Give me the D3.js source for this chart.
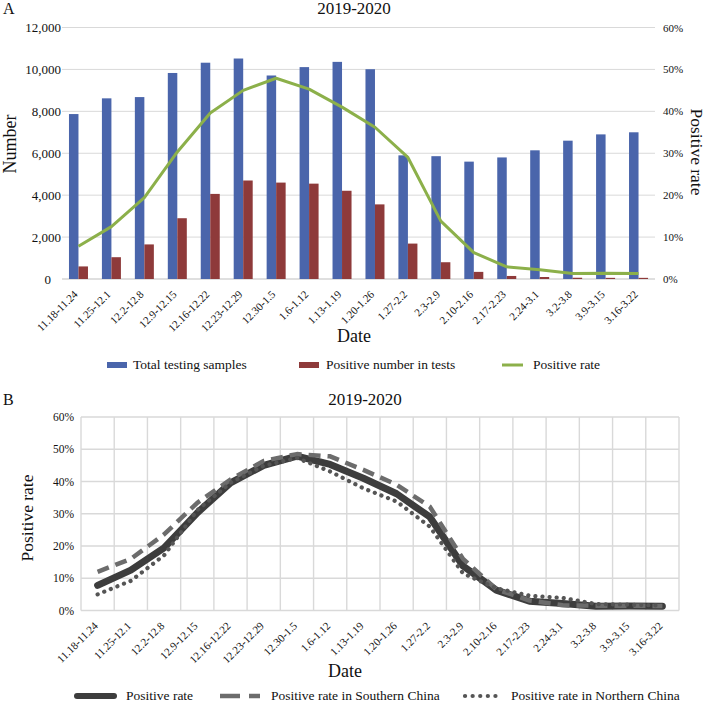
<!DOCTYPE html>
<html>
<head>
<meta charset="utf-8">
<script src="https://cdn.jsdelivr.net/npm/d3@7"></script>
<style>
  html, body { margin: 0; padding: 0; background: #fff; }
  svg { display: block; }
  svg text { font-family: "Liberation Serif", "Times New Roman", serif !important; fill: #111; }
</style>
</head>
<body>
<div id="chart"></div>
<script>
// ---------------- data ----------------
const categories = ["11.18-11.24","11.25-12.1","12.2-12.8","12.9-12.15","12.16-12.22","12.23-12.29","12.30-1.5","1.6-1.12","1.13-1.19","1.20-1.26","1.27-2.2","2.3-2.9","2.10-2.16","2.17-2.23","2.24-3.1","3.2-3.8","3.9-3.15","3.16-3.22"];
const totalSamples = [7870, 8620, 8680, 9830, 10320, 10520, 9710, 10110, 10360, 10010, 5900, 5860, 5600, 5800, 6140, 6600, 6900, 7000];
const positiveNumber = [600, 1040, 1650, 2900, 4060, 4700, 4600, 4550, 4210, 3560, 1690, 800, 340, 145, 95, 60, 55, 55];
const positiveRate = [7.8, 12.5, 19.4, 30.3, 39.6, 45.0, 47.9, 45.3, 41.0, 36.2, 29.0, 13.8, 6.3, 2.9, 2.2, 1.3, 1.4, 1.3];
const rateSouth = [12.0, 16.0, 23.6, 33.4, 40.6, 46.4, 48.5, 47.8, 43.6, 39.0, 32.2, 16.0, 6.6, 3.1, 1.6, 1.5, 1.5, 1.4];
const rateNorth = [5.0, 9.2, 17.1, 31.1, 39.6, 44.9, 47.3, 43.1, 37.9, 33.8, 26.0, 11.5, 6.9, 4.6, 3.9, 2.0, 1.8, 1.5];
const countTicks = [0, 2000, 4000, 6000, 8000, 10000, 12000];
const pctTicks = [0, 10, 20, 30, 40, 50, 60];
const legendA = ["Total testing samples", "Positive number in tests", "Positive rate"];
const legendB = ["Positive rate", "Positive rate in Southern China", "Positive rate in Northern China"];

// ---------------- styles ----------------
const BLUE = "#4a65ab", RED = "#8e3a3a", GREEN = "#8cb04a";
const GRID = "#d9d9d9";
const SERIF = "'Liberation Serif', 'Times New Roman', serif";

const svg = d3.select("#chart").append("svg").attr("width", 708).attr("height", 702)
  .attr("font-family", SERIF);

function styleAxisText(ax, size) {
  ax.attr("font-family", null).attr("font-size", null);
  ax.selectAll("text").attr("font-family", SERIF).style("font-size", size).attr("fill", "#222");
}

// ================= Panel A =================
const A = { left: 62, right: 655, top: 27.5, bottom: 279 };
const xA = d3.scaleBand().domain(categories).range([A.left, A.right]);
const yA = d3.scaleLinear().domain([0, 12000]).range([A.bottom, A.top]);
const yAR = d3.scaleLinear().domain([0, 60]).range([A.bottom, A.top]);
const gA = svg.append("g");

gA.append("text").attr("x", 3).attr("y", 14).style("font-size", "16px").text("A");
gA.append("text").attr("x", 354).attr("y", 14).attr("text-anchor", "middle").style("font-size", "17px").text("2019-2020");

// gridlines
gA.selectAll("line.grid").data(countTicks).join("line")
  .attr("x1", A.left).attr("x2", A.right)
  .attr("y1", d => yA(d)).attr("y2", d => yA(d))
  .attr("stroke", d => d === 0 ? "#bfbfbf" : GRID).attr("stroke-width", 1);

// left axis labels
const axL = gA.append("g").attr("transform", `translate(${A.left},0)`)
  .call(d3.axisLeft(yA).tickValues(countTicks).tickFormat(d3.format(",")).tickSize(0).tickPadding(1));
axL.select(".domain").remove();
styleAxisText(axL, "13px");
axL.selectAll("text").attr("dx", d => d === 0 ? -10 : 0);

// right axis labels
const axR = gA.append("g").attr("transform", `translate(${A.right},0)`)
  .call(d3.axisRight(yAR).tickValues(pctTicks).tickFormat(d => d + "%").tickSize(0).tickPadding(8));
axR.select(".domain").remove();
styleAxisText(axR, "11px");

// bars
const bw = 9.5;
const cA = c => xA(c) + xA.bandwidth() / 2;
gA.selectAll("rect.tot").data(categories).join("rect")
  .attr("x", (c) => cA(c) - bw).attr("width", bw)
  .attr("y", (c, i) => yA(totalSamples[i])).attr("height", (c, i) => yA(0) - yA(totalSamples[i]))
  .attr("fill", BLUE);
gA.selectAll("rect.pos").data(categories).join("rect")
  .attr("x", (c) => cA(c)).attr("width", bw)
  .attr("y", (c, i) => yA(positiveNumber[i])).attr("height", (c, i) => yA(0) - yA(positiveNumber[i]))
  .attr("fill", RED);

// rate line
gA.append("path").datum(positiveRate)
  .attr("d", d3.line().x((d, i) => cA(categories[i])).y(d => yAR(d)))
  .attr("fill", "none").attr("stroke", GREEN).attr("stroke-width", 3).attr("stroke-linejoin", "round");

// x axis labels
const axBA = gA.append("g").attr("transform", `translate(0,${A.bottom})`)
  .call(d3.axisBottom(xA).tickSize(0));
axBA.select(".domain").remove();
styleAxisText(axBA, "11px");
axBA.selectAll("text").attr("y", 0).attr("dy", 0).attr("x", 0)
  .attr("transform", "translate(0,16) rotate(-45)").attr("text-anchor", "end");

// axis titles
gA.append("text").attr("transform", "translate(16,144) rotate(-90)").attr("text-anchor", "middle")
  .style("font-size", "18px").text("Number");
gA.append("text").attr("transform", "translate(691,152) rotate(90)").attr("text-anchor", "middle")
  .style("font-size", "17.5px").text("Positive rate");
gA.append("text").attr("x", 354).attr("y", 342).attr("text-anchor", "middle").style("font-size", "18px").text("Date");

// legend A
const legA = gA.append("g");
legA.append("rect").attr("x", 107).attr("y", 362).attr("width", 20).attr("height", 6).attr("fill", BLUE);
legA.append("text").attr("x", 133).attr("y", 369).style("font-size", "13.5px").text(legendA[0]);
legA.append("rect").attr("x", 299).attr("y", 362).attr("width", 20).attr("height", 6).attr("fill", RED);
legA.append("text").attr("x", 326).attr("y", 369).style("font-size", "13.5px").text(legendA[1]);
legA.append("line").attr("x1", 502).attr("x2", 523).attr("y1", 365).attr("y2", 365).attr("stroke", GREEN).attr("stroke-width", 3);
legA.append("text").attr("x", 533).attr("y", 369).style("font-size", "13.5px").text(legendA[2]);

// ================= Panel B =================
const B = { left: 81, right: 679, top: 417, bottom: 610.5 };
const xB = d3.scaleBand().domain(categories).range([B.left, B.right]);
const yB = d3.scaleLinear().domain([0, 60]).range([B.bottom, B.top]);
const gB = svg.append("g");
const cB = c => xB(c) + xB.bandwidth() / 2;

gB.append("text").attr("x", 3).attr("y", 405).style("font-size", "16px").text("B");
gB.append("text").attr("x", 365).attr("y", 405).attr("text-anchor", "middle").style("font-size", "17px").text("2019-2020");

// grid
gB.selectAll("line.h").data(pctTicks).join("line")
  .attr("x1", B.left).attr("x2", B.right)
  .attr("y1", d => yB(d)).attr("y2", d => yB(d))
  .attr("stroke", GRID).attr("stroke-width", 1.4);
const vEdges = categories.map(c => xB(c)).concat([B.right]);
gB.selectAll("line.v").data(vEdges).join("line")
  .attr("x1", d => d).attr("x2", d => d)
  .attr("y1", B.top).attr("y2", B.bottom)
  .attr("stroke", GRID).attr("stroke-width", 1.4);

// y axis labels
const axLB = gB.append("g").attr("transform", `translate(${B.left},0)`)
  .call(d3.axisLeft(yB).tickValues(pctTicks).tickFormat(d => d + "%").tickSize(0).tickPadding(7));
axLB.select(".domain").remove();
styleAxisText(axLB, "11.5px");

// lines
const lineB = d3.line().x((d, i) => cB(categories[i])).y(d => yB(d));
gB.append("path").datum(positiveRate).attr("d", lineB)
  .attr("fill", "none").attr("stroke", "#3d3d3d").attr("stroke-width", 7)
  .attr("stroke-linejoin", "round").attr("stroke-linecap", "round");
gB.append("path").datum(rateSouth).attr("d", lineB)
  .attr("fill", "none").attr("stroke", "#6c6c6c").attr("stroke-width", 4.5)
  .attr("stroke-dasharray", "12,7").attr("stroke-linejoin", "round");
gB.append("path").datum(rateNorth).attr("d", lineB)
  .attr("fill", "none").attr("stroke", "#555").attr("stroke-width", 4.2)
  .attr("stroke-dasharray", "0.1,7").attr("stroke-linecap", "round");

// x labels
const axBB = gB.append("g").attr("transform", `translate(0,${B.bottom})`)
  .call(d3.axisBottom(xB).tickSize(0));
axBB.select(".domain").remove();
styleAxisText(axBB, "11px");
axBB.selectAll("text").attr("y", 0).attr("dy", 0).attr("x", 0)
  .attr("transform", "translate(1,16) rotate(-45)").attr("text-anchor", "end");

gB.append("text").attr("transform", "translate(33,518) rotate(-90)").attr("text-anchor", "middle")
  .style("font-size", "17.5px").text("Positive rate");
gB.append("text").attr("x", 345).attr("y", 677).attr("text-anchor", "middle").style("font-size", "18px").text("Date");

// legend B
const legB = gB.append("g");
legB.append("line").attr("x1", 77).attr("x2", 114).attr("y1", 696).attr("y2", 696)
  .attr("stroke", "#3d3d3d").attr("stroke-width", 6).attr("stroke-linecap", "round");
legB.append("text").attr("x", 126).attr("y", 700).style("font-size", "13.5px").text(legendB[0]);
legB.append("line").attr("x1", 220).attr("x2", 260).attr("y1", 696).attr("y2", 696)
  .attr("stroke", "#6c6c6c").attr("stroke-width", 4.5).attr("stroke-dasharray", "20,9");
legB.append("text").attr("x", 271).attr("y", 700).style("font-size", "13.5px").text(legendB[1]);
legB.append("line").attr("x1", 465).attr("x2", 502).attr("y1", 696).attr("y2", 696)
  .attr("stroke", "#555").attr("stroke-width", 4.2).attr("stroke-dasharray", "0.1,7.5").attr("stroke-linecap", "round");
legB.append("text").attr("x", 511).attr("y", 700).style("font-size", "13.5px").text(legendB[2]);
</script>
</body>
</html>
